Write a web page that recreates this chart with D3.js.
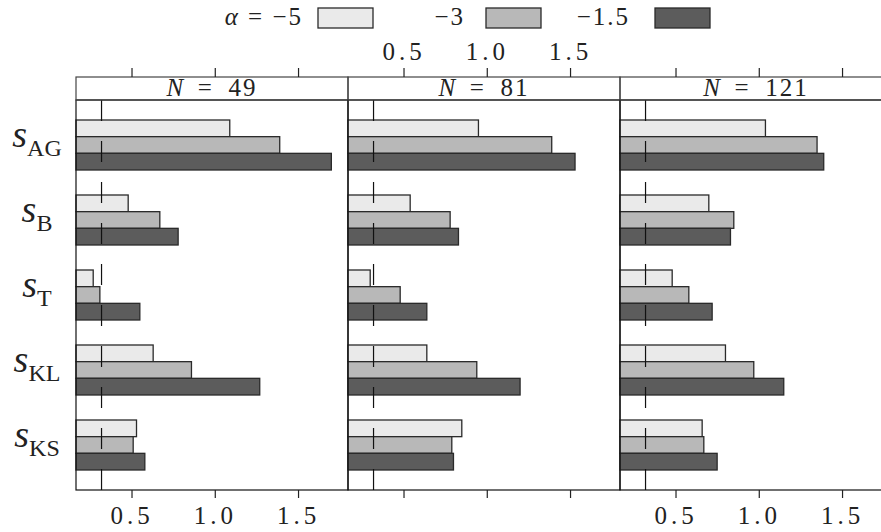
<!DOCTYPE html>
<html>
<head>
<meta charset="utf-8">
<script src="https://cdn.jsdelivr.net/npm/d3@7"></script>
<style>
  body { margin: 0; background: #fff; }
  svg { display: block; font-family: "Liberation Serif", "DejaVu Serif", serif; }
</style>
</head>
<body>
<svg id="chart" width="881" height="532"></svg>
<script>
// measures (rows), panel sizes and alpha levels
var measures = ["AG", "B", "T", "KL", "KS"];
var sizes = [49, 81, 121];
var alphas = ["\u22125", "\u22123", "\u22121.5"];
var ticks = [0.5, 1.0, 1.5];
var refValue = 0.32;

// values per panel, one array per alpha, in measure order
var n49_a5  = [1.09, 0.48, 0.27, 0.63, 0.53];
var n49_a3  = [1.39, 0.67, 0.31, 0.86, 0.51];
var n49_a15 = [1.70, 0.78, 0.55, 1.27, 0.58];

var n81_a5  = [0.95, 0.54, 0.30, 0.64, 0.85];
var n81_a3  = [1.39, 0.78, 0.48, 0.94, 0.79];
var n81_a15 = [1.53, 0.83, 0.64, 1.20, 0.80];

var n121_a5  = [1.04, 0.70, 0.48, 0.80, 0.66];
var n121_a3  = [1.35, 0.85, 0.58, 0.97, 0.67];
var n121_a15 = [1.39, 0.83, 0.72, 1.15, 0.75];

var panelValues = [
  [n49_a5, n49_a3, n49_a15],
  [n81_a5, n81_a3, n81_a15],
  [n121_a5, n121_a3, n121_a15]
];

var colors = ["#eaeaea", "#b8b8b8", "#5c5c5c"];

var svg = d3.select("#chart");
var plotTop = 100, plotBottom = 490, stripTop = 77;

var px = d3.scaleBand().domain(sizes).range([76, 892]);
var x = d3.scaleLinear().domain([1 / 6, 1.8]).range([0, px.bandwidth()]);
var y = d3.scaleBand().domain(measures).range([plotTop, plotBottom])
    .paddingInner(1 / 3).paddingOuter(0.2667);
var sub = d3.scaleBand().domain(alphas).range([0, y.bandwidth()]);
var fmt = d3.format(".1f");

sizes.forEach(function(n, pi) {
  var g = svg.append("g").attr("transform", "translate(" + px(n) + ",0)");
  var w = px.bandwidth();

  // bars
  alphas.forEach(function(a, ai) {
    var vals = panelValues[pi][ai];
    g.selectAll(".bar" + ai)
      .data(measures)
      .enter().append("rect")
      .attr("x", 0)
      .attr("y", function(m) { return y(m) + sub(a); })
      .attr("width", function(m, i) { return x(vals[i]); })
      .attr("height", sub.bandwidth())
      .attr("fill", colors[ai])
      .attr("stroke", "#2a2a2a")
      .attr("stroke-width", 1.3);
  });

  // reference line
  g.append("line")
    .attr("x1", x(refValue)).attr("x2", x(refValue))
    .attr("y1", plotTop).attr("y2", plotBottom)
    .attr("stroke", "#111").attr("stroke-width", 1.2)
    .attr("stroke-dasharray", "21,20");

  // panel frame and strip
  g.append("rect").attr("x", 0).attr("y", plotTop).attr("width", w).attr("height", plotBottom - plotTop)
    .attr("fill", "none").attr("stroke", "#111").attr("stroke-width", 1.2);
  g.append("rect").attr("x", 0).attr("y", stripTop).attr("width", w).attr("height", plotTop - stripTop)
    .attr("fill", "none").attr("stroke", "#444").attr("stroke-width", 1.2);

  var strip = g.append("text")
    .attr("x", w / 2).attr("y", 96)
    .attr("text-anchor", "middle")
    .attr("font-size", 25).attr("fill", "#222");
  strip.append("tspan").attr("font-style", "italic").text("N");
  strip.append("tspan").text("\u2002=\u2002" + n).attr("letter-spacing", 2);

  // top axis
  var ta = g.append("g").attr("transform", "translate(0," + stripTop + ")")
    .call(d3.axisTop(x).tickValues(ticks).tickSize(9).tickPadding(8).tickFormat(fmt));
  ta.select(".domain").remove();
  ta.selectAll("line").attr("stroke", "#222").attr("stroke-width", 1.2);
  ta.selectAll("text").attr("font-size", 25).attr("font-family", "Liberation Serif")
    .attr("letter-spacing", 4).attr("fill", "#222")
    .style("display", pi === 1 ? null : "none");

  // bottom axis
  var ba = g.append("g").attr("transform", "translate(0," + plotBottom + ")")
    .call(d3.axisBottom(x).tickValues(ticks).tickSize(8).tickPadding(8).tickFormat(fmt));
  ba.select(".domain").remove();
  ba.selectAll("line").attr("stroke", "#222").attr("stroke-width", 1.2);
  ba.selectAll("text").attr("font-size", 25).attr("font-family", "Liberation Serif")
    .attr("letter-spacing", 4).attr("fill", "#222")
    .style("display", pi === 1 ? "none" : null);
});

// row labels
measures.forEach(function(m) {
  var t = svg.append("text")
    .attr("x", 37).attr("y", y(m) + y.bandwidth() / 2 + 2)
    .attr("text-anchor", "middle").attr("fill", "#222");
  t.append("tspan").attr("font-style", "italic").attr("font-size", 38).text("s");
  t.append("tspan").attr("font-size", 24).attr("dy", 9).text(m);
});

// legend
var legendText = [{ x: 303, label: "\u03b1 = " + alphas[0] }, { x: 465, label: alphas[1] }, { x: 630, label: alphas[2] }];
var legendBox = [318, 486, 655];
alphas.forEach(function(a, i) {
  var t = svg.append("text")
    .attr("x", legendText[i].x).attr("y", 25)
    .attr("text-anchor", "end").attr("font-size", 25).attr("fill", "#222")
    .attr("letter-spacing", 2);
  if (i === 0) {
    t.append("tspan").attr("font-style", "italic").text("\u03b1");
    t.append("tspan").text("  =  " + a);
  } else {
    t.text(a);
  }
  svg.append("rect")
    .attr("x", legendBox[i]).attr("y", 8).attr("width", 55).attr("height", 20)
    .attr("fill", colors[i]).attr("stroke", "#2a2a2a").attr("stroke-width", 1.3);
});
</script>
</body>
</html>
